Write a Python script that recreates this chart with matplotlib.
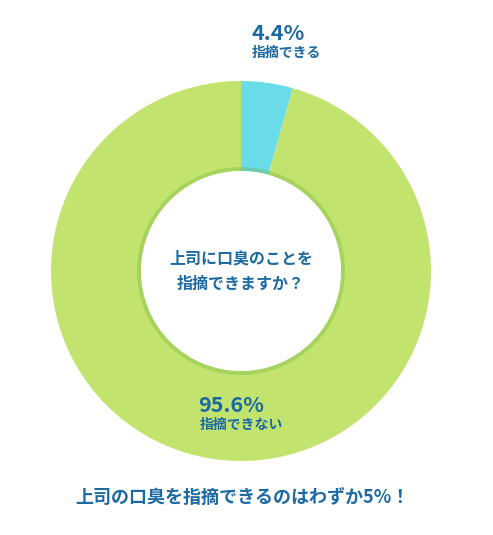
import matplotlib.pyplot as plt
from matplotlib.patches import Circle, Wedge

plt.rcParams['font.family'] = ['Noto Sans CJK JP', 'DejaVu Sans']

labels = ['指摘できる', '指摘できない']
values = [4.4, 95.6]
colors = ['#6adbe8', '#c2e46e']
question = '上司に口臭のことを\n指摘できますか？'
footer = '上司の口臭を指摘できるのはわずか5%！'
txt_color = '#1d6aa3'

W, H = 493, 535
fig = plt.figure(figsize=(W / 100, H / 100), dpi=100)
ax = fig.add_axes([0, 0, 1, 1])

cx, cy = 241, H - 271
R, r = 190, 100

ax.pie(values, colors=colors, startangle=90, counterclock=False,
       center=(cx, cy), radius=R,
       wedgeprops=dict(width=R - r, edgecolor='none'))
# translucent shadow ring on the inner edge
ax.add_patch(Wedge((cx, cy), r + 4, 0, 360, width=4.5, color='#6fb43a',
                   alpha=0.35, lw=0, zorder=3))
ax.add_patch(Circle((cx, cy), r, color='white', lw=0, zorder=4))

ax.set_xlim(0, W)
ax.set_ylim(0, H)
ax.set_aspect('equal')
ax.axis('off')

ax.text(cx, cy, question, ha='center', va='center', fontsize=11.5,
        fontweight='bold', color=txt_color, linespacing=1.7, zorder=5)

ax.text(251, H - 33, '%.1f%%' % values[0], ha='left', va='center',
        fontsize=15.5, fontweight='bold', color=txt_color)
ax.text(252, H - 53, labels[0], ha='left', va='center',
        fontsize=10, fontweight='bold', color=txt_color)

ax.text(198, H - 405, '%.1f%%' % values[1], ha='left', va='center',
        fontsize=15.5, fontweight='bold', color=txt_color)
ax.text(200, H - 425, labels[1], ha='left', va='center',
        fontsize=10, fontweight='bold', color=txt_color)

ax.text(242, H - 497, footer, ha='center', va='center',
        fontsize=13, fontweight='bold', color=txt_color)

fig.savefig('out.png', dpi=100)
